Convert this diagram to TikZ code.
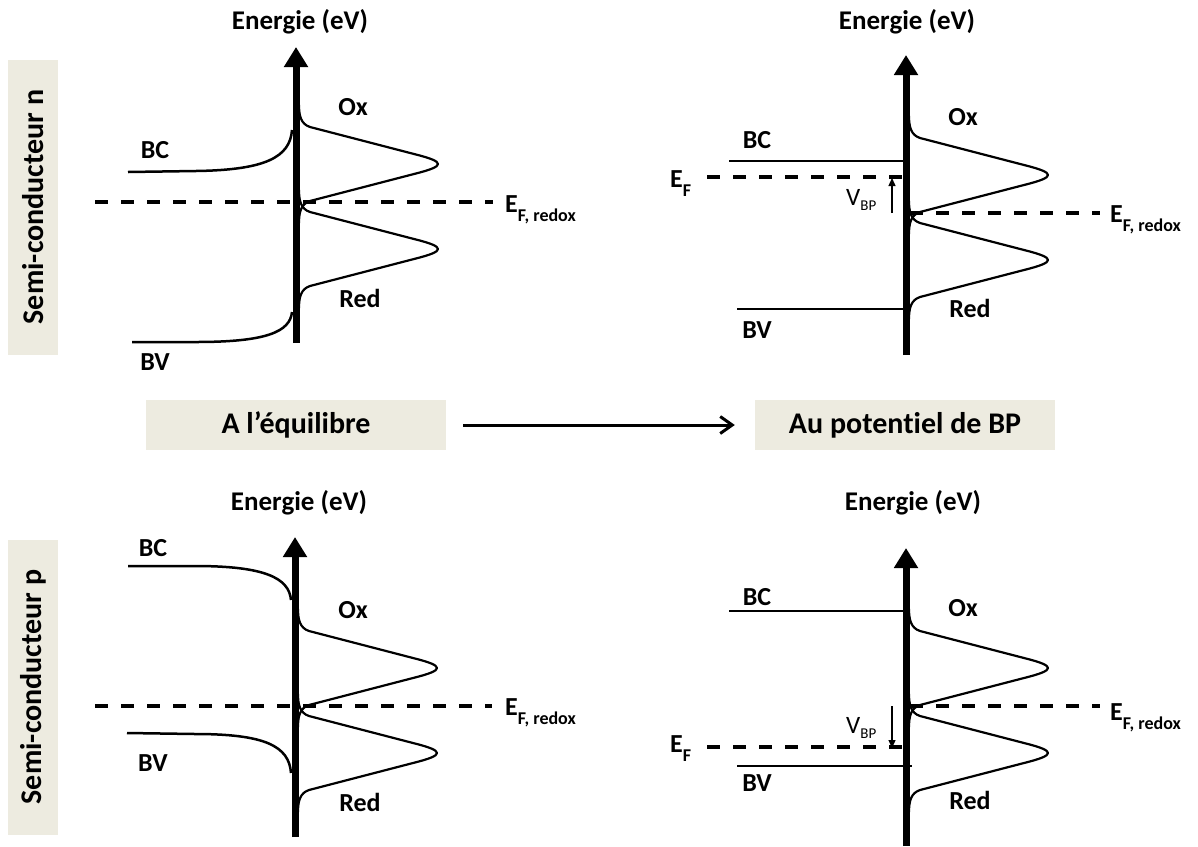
\documentclass[tikz,border=0pt]{standalone}
\usepackage{fontspec}
\setmainfont{Carlito}[Ligatures=NoCommon]
\usetikzlibrary{arrows.meta}

\definecolor{beige}{RGB}{237,235,224}
\newcommand{\lowsub}[1]{\raisebox{-9pt}{\fontsize{18}{18}\selectfont #1}}
\newcommand{\vbp}{{\fontsize{25}{25}\selectfont V\raisebox{-5pt}{\fontsize{15}{15}\selectfont BP}}}
% courbes Ox et Red autour du niveau redox
\newcommand{\oxred}{%
	\draw [curve] (3,-97) .. controls (3,-86) and (5,-78) .. (14,-75) -- (118,-48) .. controls (150,-40) and (150,-36) .. (118,-28) -- (14,-1) .. controls (5,2) and (3,10) .. (3,21);
	\draw [curve] (3,-12) .. controls (3,-1) and (5,7) .. (14,10) -- (118,37) .. controls (150,45) and (150,49) .. (118,57) -- (14,84) .. controls (5,87) and (3,95) .. (3,106);
}

\begin{document}
\begin{tikzpicture}[x=1pt, y=-1pt,
	lbl/.style={font=\fontsize{26}{26}\selectfont\bfseries, inner sep=0pt},
	axlbl/.style={font=\fontsize{27}{27}\selectfont\bfseries, inner sep=0pt},
	title/.style={font=\fontsize{30}{30}\selectfont\bfseries, fill=beige, inner sep=0pt},
	axe/.style={line width=7pt, -{Triangle[length=20pt,width=23pt]}},
	band/.style={line width=2.5pt},
	curve/.style={line width=2.2pt, line join=round},
	fermi/.style={line width=3.5pt, dash pattern=on 13pt off 13pt},
	vbparrow/.style={line width=1.3pt, -{Triangle[length=8pt,width=7pt]}}]
	\useasboundingbox (0,0) rectangle (1198,846);

	% titres
	\node [title, rotate=90, minimum width=295pt, minimum height=50pt] (semin) at (33,207) {Semi-conducteur n};
	\node [title, rotate=90, minimum width=295pt, minimum height=50pt] (semip) at (33,687) {Semi-conducteur p};
	\node [title, minimum width=300pt, minimum height=50pt] (equil) at (296,425) {A l’équilibre};
	\node [title, minimum width=300pt, minimum height=50pt] (bandp) at (905,425) {Au potentiel de BP};
	\draw [line width=3pt, -{Straight Barb[length=12pt,width=17pt]}, shorten <=17pt, shorten >=20pt] (equil) -- (bandp);

	% n, equilibre
	\begin{scope}[shift={(296,202)}]
		\draw [axe] (0,141) -- (0,-155);
		\node [axlbl] (en1) at (4,-180) {Energie (eV)};
		\draw [band] (-168,-30) -- (-100,-31) .. controls (-30,-32) and (-6,-45) .. (-4,-72);
		\draw [band] (-164,140) -- (-100,140) .. controls (-30,140) and (-6,130) .. (-4,110);
		\draw [fermi] (-201,0) -- (197,0);
		\oxred
		\node [lbl] (bc1) at (-141,-52) {BC};
		\node [lbl] (bv1) at (-141,160) {BV};
		\node [lbl] (ox1) at (57,-95) {Ox};
		\node [lbl] (red1) at (64,96) {Red};
		\node [lbl, anchor=base west] (ef1) at (209,10) {E\lowsub{F, redox}};
	\end{scope}

	% n, potentiel de bandes plates
	\begin{scope}[shift={(906,213)}]
		\draw [axe] (0,142) -- (0,-158);
		\node [axlbl] (en2) at (1,-191) {Energie (eV)};
		\draw [band] (-177,-52) -- (0,-52);
		\draw [band] (-169,96) -- (0,96);
		\draw [fermi] (-199,-36) -- (-1,-36);
		\draw [fermi] (4,0) -- (194,0);
		\draw [vbparrow] (-14,0) -- (-14,-35);
		\oxred
		\node [lbl] (bc2) at (-149,-73) {BC};
		\node [lbl] (bv2) at (-149,117) {BV};
		\node [lbl] (ox2) at (57,-96) {Ox};
		\node [lbl] (red2) at (64,95) {Red};
		\node [inner sep=0pt, anchor=base west] (vbp2) at (-60,-8) {\vbp};
		\node [lbl, anchor=base west] (efm2) at (-236,-26) {E\lowsub{F}};
		\node [lbl, anchor=base west] (ef2) at (204,9) {E\lowsub{F, redox}};
	\end{scope}

	% p, equilibre
	\begin{scope}[shift={(295,706)}]
		\draw [axe] (0,131) -- (0,-169);
		\node [axlbl] (en3) at (4,-203) {Energie (eV)};
		\draw [band] (-167,-140) -- (-100,-140) .. controls (-30,-140) and (-6,-128) .. (-4,-106);
		\draw [band] (-168,27) -- (-100,28) .. controls (-30,28) and (-6,40) .. (-4,67);
		\draw [fermi] (-200,0) -- (197,0);
		\oxred
		\node [lbl] (bc3) at (-142,-158) {BC};
		\node [lbl] (bv3) at (-142,57) {BV};
		\node [lbl] (ox3) at (58,-96) {Ox};
		\node [lbl] (red3) at (65,96) {Red};
		\node [lbl, anchor=base west] (ef3) at (210,9) {E\lowsub{F, redox}};
	\end{scope}

	% p, potentiel de bandes plates
	\begin{scope}[shift={(906,706)}]
		\draw [axe] (0,140) -- (0,-158);
		\node [axlbl] (en4) at (7,-203) {Energie (eV)};
		\draw [band] (-177,-95) -- (0,-95);
		\draw [band] (-169,60) -- (6,60);
		\draw [fermi] (-199,41) -- (-1,41);
		\draw [fermi] (4,0) -- (194,0);
		\draw [vbparrow] (-14,0) -- (-14,42);
		\oxred
		\node [lbl] (bc4) at (-149,-109) {BC};
		\node [lbl] (bv4) at (-149,77) {BV};
		\node [lbl] (ox4) at (57,-98) {Ox};
		\node [lbl] (red4) at (64,94) {Red};
		\node [inner sep=0pt, anchor=base west] (vbp4) at (-60,27) {\vbp};
		\node [lbl, anchor=base west] (efm4) at (-236,46) {E\lowsub{F}};
		\node [lbl, anchor=base west] (ef4) at (204,14) {E\lowsub{F, redox}};
	\end{scope}
\end{tikzpicture}
\end{document}
